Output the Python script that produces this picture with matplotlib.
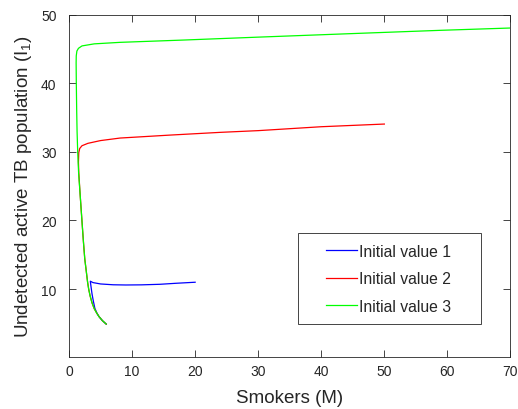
import matplotlib
matplotlib.use("Agg")
import matplotlib.pyplot as plt
from matplotlib.patches import Rectangle

plt.rcParams['font.family'] = ['Liberation Sans', 'DejaVu Sans']
plt.rcParams['mathtext.fontset'] = 'custom'
plt.rcParams['mathtext.rm'] = 'Liberation Sans'
plt.rcParams['mathtext.it'] = 'Liberation Sans:italic'

blue_x = [20, 17, 14.4, 11.5, 9, 7, 5, 3.8, 3.38, 3.5, 3.65, 3.85, 4.1, 4.4, 4.75, 5.3, 5.9]
blue_y = [11.0, 10.85, 10.7, 10.62, 10.6, 10.63, 10.75, 10.95, 11.15, 10.3, 9.3, 8.3, 7.2, 6.55, 6.0, 5.4, 4.9]

red_x = [50, 40, 30, 24, 16, 8.1, 5, 3, 2.06, 1.7, 1.55, 1.5, 1.55, 1.75, 2.05, 2.28, 2.5, 2.7, 2.95, 3.12, 3.35, 3.65, 4.0, 4.4, 4.75, 5.3, 5.9]
red_y = [34.06, 33.67, 33.1, 32.85, 32.45, 32.02, 31.65, 31.25, 30.9, 30.5, 29.9, 28.5, 27.0, 24.0, 20.0, 17.0, 14.4, 12.9, 11.0, 10.0, 9.0, 8.0, 7.15, 6.5, 6.0, 5.4, 4.9]

green_x = [70, 58.8, 45, 30, 18, 8.1, 4, 2.06, 1.5, 1.25, 1.15, 1.13, 1.16, 1.22, 1.28, 1.38, 1.52, 1.75, 2.05, 2.28, 2.5, 2.7, 2.95, 3.12, 3.35, 3.65, 4.0, 4.4, 4.75, 5.3, 5.9]
green_y = [48.06, 47.72, 47.25, 46.73, 46.3, 45.97, 45.75, 45.45, 45.1, 44.7, 44.0, 43.0, 40.0, 36.0, 33.0, 30.0, 27.0, 24.0, 20.0, 17.0, 14.4, 12.9, 11.0, 10.0, 9.0, 8.0, 7.15, 6.5, 6.0, 5.4, 4.9]

labels = ['Initial value 1', 'Initial value 2', 'Initial value 3']
xticks = [0, 10, 20, 30, 40, 50, 60, 70]
yticks = [10, 20, 30, 40, 50]

fig = plt.figure(figsize=(5.18, 4.10), dpi=100)
ax = fig.add_axes([0.1332, 0.1268, 0.8523, 0.8349])

ax.plot(blue_x, blue_y, color=(0, 0, 1), lw=0.9, label=labels[0])
ax.plot(red_x, red_y, color=(1, 0, 0), lw=0.9, label=labels[1])
ax.plot(green_x, green_y, color=(0, 1, 0), lw=0.9, label=labels[2])

ax.set_xlim(0, 70)
ax.set_ylim(0.1, 50)
ax.set_xticks(xticks)
ax.set_yticks(yticks)
dark = (0.15, 0.15, 0.15)
ax.tick_params(direction='in', top=True, right=True, length=5, width=0.6,
               labelsize=10, colors=dark, labelcolor=dark)
ax.tick_params(axis='x', pad=5)
ax.tick_params(axis='y', pad=9)
for s in ax.spines.values():
    s.set_color(dark)
    s.set_linewidth(0.6)

ax.set_xlabel('Smokers (M)', fontsize=13.5, color=dark, labelpad=8)
ax.set_ylabel('Undetected active TB population (I$_1$)', fontsize=13.5, color=dark, labelpad=5)

# legend box (drawn separately to match the wide horizontal padding)
bx0, by0, bx1, by1 = 0.519, 0.0964, 0.933, 0.361
ax.add_patch(Rectangle((bx0, by0), bx1 - bx0, by1 - by0, transform=ax.transAxes,
                       facecolor='white', edgecolor=dark, linewidth=0.6, zorder=4))
leg = ax.legend(loc='center', bbox_to_anchor=((bx0 + bx1) / 2 - 0.002, (by0 + by1) / 2),
                borderaxespad=0, fontsize=11.3, handlelength=1.95, handletextpad=0.15,
                labelspacing=0.8, borderpad=0, frameon=False)
leg.set_zorder(5)
for t in leg.get_texts():
    t.set_color(dark)

fig.savefig('out.png', dpi=100)
